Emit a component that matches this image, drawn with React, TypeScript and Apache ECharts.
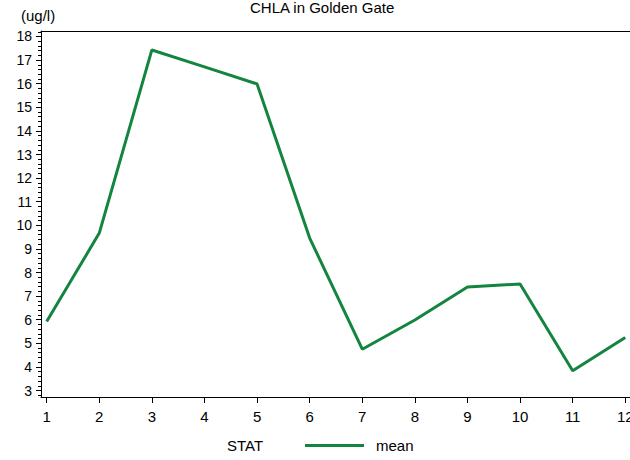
import React, { useEffect, useRef } from "react";
import * as echarts from "echarts";

const months = [1, 2, 3, 4, 5, 6, 7, 8, 9, 10, 11, 12];
const meanValues = [5.92, 9.67, 17.43, 16.71, 15.99, 9.46, 4.75, 5.99, 7.39, 7.51, 3.84, 5.25];
const yTickValues = [3, 4, 5, 6, 7, 8, 9, 10, 11, 12, 13, 14, 15, 16, 17, 18];
const titleText = "CHLA in Golden Gate";
const unitLabel = "(ug/l)";
const legendTitle = "STAT";
const seriesName = "mean";

const FONT = "Arial, 'Liberation Sans', Helvetica, sans-serif";
const GREEN = "#13853F";

const X_MIN = 0.892;
const X_MAX = 12.09;
const Y_MIN = 2.725;
const Y_MAX = 18.233;

export default function App() {
  const ref = useRef<HTMLDivElement>(null);
  useEffect(() => {
    if (!ref.current) return;
    const chart = echarts.init(ref.current, null, { renderer: "svg" });
    const data = months.map((m, i) => [m, meanValues[i]]);
    const minorValues: number[] = [];
    for (let k = 14; k <= 91; k++) {
      if (k % 5 !== 0) minorValues.push(Math.round(k * 20) / 100);
    }
    chart.setOption({
      animation: false,
      backgroundColor: "#ffffff",
      textStyle: { fontFamily: FONT },
      title: {
        text: titleText,
        left: 250,
        top: 0,
        padding: 0,
        textStyle: { fontFamily: FONT, fontSize: 15, fontWeight: "normal", color: "#000" },
      },
      graphic: [
        {
          type: "text",
          left: 21,
          top: 8,
          style: { text: unitLabel, font: `15px ${FONT}`, fill: "#000" },
        },
        {
          type: "text",
          left: 227,
          top: 438,
          style: { text: legendTitle, font: `15px ${FONT}`, fill: "#000" },
        },
      ],
      legend: {
        left: 305,
        top: 438,
        padding: 0,
        itemWidth: 59,
        itemHeight: 3,
        icon: "rect",
        data: [{ name: seriesName, icon: "rect" }],
        textStyle: { fontFamily: FONT, fontSize: 15, color: "#000", padding: [0, 0, 0, 7] },
      },
      grid: {
        left: 41,
        top: 31,
        right: 0,
        bottom: 63,
        containLabel: false,
        outerBoundsMode: "none",
      },
      xAxis: [
        {
          type: "value",
          min: X_MIN,
          max: X_MAX,
          splitLine: { show: false },
          axisLine: { lineStyle: { color: "#000", width: 1 } },
          axisTick: { length: 6, lineStyle: { color: "#000" }, customValues: months },
          axisLabel: {
            customValues: months,
            margin: 12,
            fontSize: 15,
            color: "#000",
            fontFamily: FONT,
            hideOverlap: false,
          },
        },
        {
          type: "value",
          position: "top",
          min: X_MIN,
          max: X_MAX,
          splitLine: { show: false },
          axisLine: { show: true, lineStyle: { color: "#000", width: 1 } },
          axisTick: { show: false },
          axisLabel: { show: false },
        },
      ],
      yAxis: [
        {
          type: "value",
          min: Y_MIN,
          max: Y_MAX,
          splitLine: { show: false },
          axisLine: { show: true, lineStyle: { color: "#000", width: 1 } },
          axisTick: { show: true, length: 5, lineStyle: { color: "#000" }, customValues: yTickValues },
          axisLabel: {
            customValues: yTickValues,
            margin: 9,
            fontSize: 14,
            color: "#000",
            fontFamily: FONT,
          },
        },
        {
          type: "value",
          position: "left",
          offset: 0,
          min: Y_MIN,
          max: Y_MAX,
          splitLine: { show: false },
          axisLine: { show: false },
          axisTick: { show: true, length: 3, lineStyle: { color: "#000" }, customValues: minorValues },
          axisLabel: { show: false },
        },
      ],
      series: [
        {
          name: seriesName,
          type: "line",
          xAxisIndex: 0,
          yAxisIndex: 0,
          data,
          symbol: "none",
          lineStyle: { color: GREEN, width: 3 },
          itemStyle: { color: GREEN },
        },
      ],
    });
    return () => chart.dispose();
  }, []);
  return (
    <div
      ref={ref}
      style={{ position: "fixed", left: 0, top: 0, width: 630, height: 460 }}
    />
  );
}
